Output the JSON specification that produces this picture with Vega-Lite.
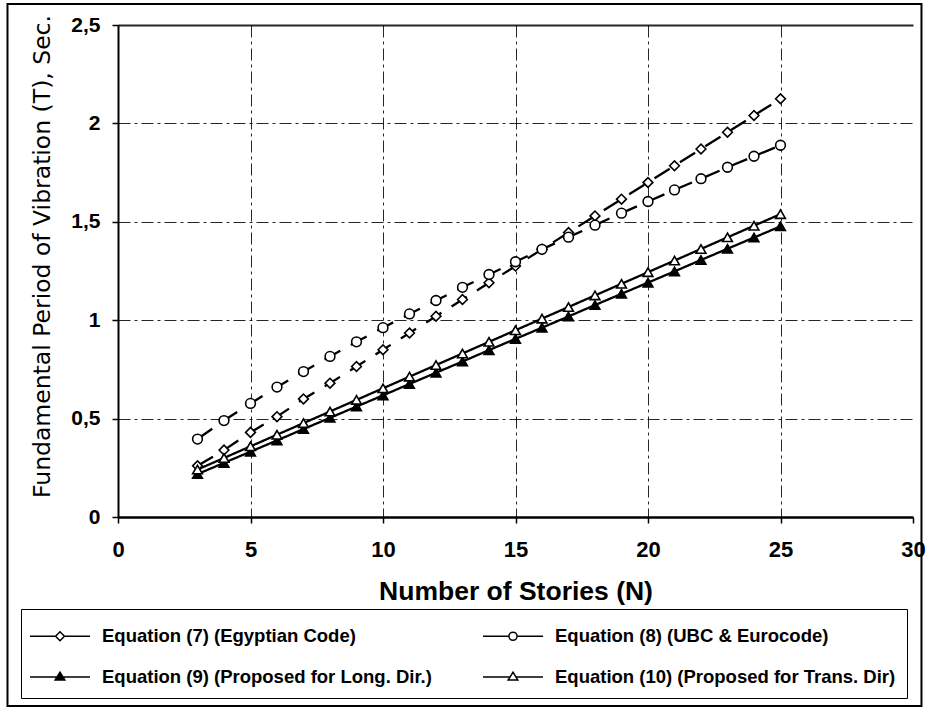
{
  "$schema": "https://vega.github.io/schema/vega-lite/v6.json",
  "width": 795,
  "height": 492,
  "autosize": {"type": "none"},
  "padding": {"left": 118, "top": 25, "right": 13, "bottom": 193},
  "background": "white",
  "config": {"view": {"stroke": null}, "font": "Liberation Sans"},
  "data": {"values": [
    {"s": "Equation (7) (Egyptian Code)", "N": 3, "T": 0.26},
    {"s": "Equation (7) (Egyptian Code)", "N": 4, "T": 0.34},
    {"s": "Equation (7) (Egyptian Code)", "N": 5, "T": 0.43},
    {"s": "Equation (7) (Egyptian Code)", "N": 6, "T": 0.51},
    {"s": "Equation (7) (Egyptian Code)", "N": 7, "T": 0.60},
    {"s": "Equation (7) (Egyptian Code)", "N": 8, "T": 0.68},
    {"s": "Equation (7) (Egyptian Code)", "N": 9, "T": 0.765},
    {"s": "Equation (7) (Egyptian Code)", "N": 10, "T": 0.85},
    {"s": "Equation (7) (Egyptian Code)", "N": 11, "T": 0.935},
    {"s": "Equation (7) (Egyptian Code)", "N": 12, "T": 1.02},
    {"s": "Equation (7) (Egyptian Code)", "N": 13, "T": 1.105},
    {"s": "Equation (7) (Egyptian Code)", "N": 14, "T": 1.19},
    {"s": "Equation (7) (Egyptian Code)", "N": 15, "T": 1.275},
    {"s": "Equation (7) (Egyptian Code)", "N": 16, "T": 1.36},
    {"s": "Equation (7) (Egyptian Code)", "N": 17, "T": 1.445},
    {"s": "Equation (7) (Egyptian Code)", "N": 18, "T": 1.53},
    {"s": "Equation (7) (Egyptian Code)", "N": 19, "T": 1.615},
    {"s": "Equation (7) (Egyptian Code)", "N": 20, "T": 1.70},
    {"s": "Equation (7) (Egyptian Code)", "N": 21, "T": 1.785},
    {"s": "Equation (7) (Egyptian Code)", "N": 22, "T": 1.87},
    {"s": "Equation (7) (Egyptian Code)", "N": 23, "T": 1.955},
    {"s": "Equation (7) (Egyptian Code)", "N": 24, "T": 2.04},
    {"s": "Equation (7) (Egyptian Code)", "N": 25, "T": 2.125},
    {"s": "Equation (8) (UBC & Eurocode)", "N": 3, "T": 0.396},
    {"s": "Equation (8) (UBC & Eurocode)", "N": 4, "T": 0.49},
    {"s": "Equation (8) (UBC & Eurocode)", "N": 5, "T": 0.577},
    {"s": "Equation (8) (UBC & Eurocode)", "N": 6, "T": 0.66},
    {"s": "Equation (8) (UBC & Eurocode)", "N": 7, "T": 0.739},
    {"s": "Equation (8) (UBC & Eurocode)", "N": 8, "T": 0.816},
    {"s": "Equation (8) (UBC & Eurocode)", "N": 9, "T": 0.89},
    {"s": "Equation (8) (UBC & Eurocode)", "N": 10, "T": 0.962},
    {"s": "Equation (8) (UBC & Eurocode)", "N": 11, "T": 1.032},
    {"s": "Equation (8) (UBC & Eurocode)", "N": 12, "T": 1.1},
    {"s": "Equation (8) (UBC & Eurocode)", "N": 13, "T": 1.167},
    {"s": "Equation (8) (UBC & Eurocode)", "N": 14, "T": 1.232},
    {"s": "Equation (8) (UBC & Eurocode)", "N": 15, "T": 1.297},
    {"s": "Equation (8) (UBC & Eurocode)", "N": 16, "T": 1.36},
    {"s": "Equation (8) (UBC & Eurocode)", "N": 17, "T": 1.422},
    {"s": "Equation (8) (UBC & Eurocode)", "N": 18, "T": 1.483},
    {"s": "Equation (8) (UBC & Eurocode)", "N": 19, "T": 1.544},
    {"s": "Equation (8) (UBC & Eurocode)", "N": 20, "T": 1.603},
    {"s": "Equation (8) (UBC & Eurocode)", "N": 21, "T": 1.662},
    {"s": "Equation (8) (UBC & Eurocode)", "N": 22, "T": 1.719},
    {"s": "Equation (8) (UBC & Eurocode)", "N": 23, "T": 1.777},
    {"s": "Equation (8) (UBC & Eurocode)", "N": 24, "T": 1.833},
    {"s": "Equation (8) (UBC & Eurocode)", "N": 25, "T": 1.889},
    {"s": "Equation (9) (Proposed for Long. Dir.)", "N": 3, "T": 0.218},
    {"s": "Equation (9) (Proposed for Long. Dir.)", "N": 4, "T": 0.275},
    {"s": "Equation (9) (Proposed for Long. Dir.)", "N": 5, "T": 0.332},
    {"s": "Equation (9) (Proposed for Long. Dir.)", "N": 6, "T": 0.389},
    {"s": "Equation (9) (Proposed for Long. Dir.)", "N": 7, "T": 0.447},
    {"s": "Equation (9) (Proposed for Long. Dir.)", "N": 8, "T": 0.504},
    {"s": "Equation (9) (Proposed for Long. Dir.)", "N": 9, "T": 0.561},
    {"s": "Equation (9) (Proposed for Long. Dir.)", "N": 10, "T": 0.618},
    {"s": "Equation (9) (Proposed for Long. Dir.)", "N": 11, "T": 0.676},
    {"s": "Equation (9) (Proposed for Long. Dir.)", "N": 12, "T": 0.733},
    {"s": "Equation (9) (Proposed for Long. Dir.)", "N": 13, "T": 0.79},
    {"s": "Equation (9) (Proposed for Long. Dir.)", "N": 14, "T": 0.848},
    {"s": "Equation (9) (Proposed for Long. Dir.)", "N": 15, "T": 0.905},
    {"s": "Equation (9) (Proposed for Long. Dir.)", "N": 16, "T": 0.962},
    {"s": "Equation (9) (Proposed for Long. Dir.)", "N": 17, "T": 1.019},
    {"s": "Equation (9) (Proposed for Long. Dir.)", "N": 18, "T": 1.077},
    {"s": "Equation (9) (Proposed for Long. Dir.)", "N": 19, "T": 1.134},
    {"s": "Equation (9) (Proposed for Long. Dir.)", "N": 20, "T": 1.191},
    {"s": "Equation (9) (Proposed for Long. Dir.)", "N": 21, "T": 1.248},
    {"s": "Equation (9) (Proposed for Long. Dir.)", "N": 22, "T": 1.306},
    {"s": "Equation (9) (Proposed for Long. Dir.)", "N": 23, "T": 1.363},
    {"s": "Equation (9) (Proposed for Long. Dir.)", "N": 24, "T": 1.42},
    {"s": "Equation (9) (Proposed for Long. Dir.)", "N": 25, "T": 1.477},
    {"s": "Equation (10) (Proposed for Trans. Dir)", "N": 3, "T": 0.241},
    {"s": "Equation (10) (Proposed for Trans. Dir)", "N": 4, "T": 0.3},
    {"s": "Equation (10) (Proposed for Trans. Dir)", "N": 5, "T": 0.359},
    {"s": "Equation (10) (Proposed for Trans. Dir)", "N": 6, "T": 0.418},
    {"s": "Equation (10) (Proposed for Trans. Dir)", "N": 7, "T": 0.477},
    {"s": "Equation (10) (Proposed for Trans. Dir)", "N": 8, "T": 0.536},
    {"s": "Equation (10) (Proposed for Trans. Dir)", "N": 9, "T": 0.595},
    {"s": "Equation (10) (Proposed for Trans. Dir)", "N": 10, "T": 0.654},
    {"s": "Equation (10) (Proposed for Trans. Dir)", "N": 11, "T": 0.713},
    {"s": "Equation (10) (Proposed for Trans. Dir)", "N": 12, "T": 0.772},
    {"s": "Equation (10) (Proposed for Trans. Dir)", "N": 13, "T": 0.831},
    {"s": "Equation (10) (Proposed for Trans. Dir)", "N": 14, "T": 0.89},
    {"s": "Equation (10) (Proposed for Trans. Dir)", "N": 15, "T": 0.949},
    {"s": "Equation (10) (Proposed for Trans. Dir)", "N": 16, "T": 1.008},
    {"s": "Equation (10) (Proposed for Trans. Dir)", "N": 17, "T": 1.067},
    {"s": "Equation (10) (Proposed for Trans. Dir)", "N": 18, "T": 1.126},
    {"s": "Equation (10) (Proposed for Trans. Dir)", "N": 19, "T": 1.185},
    {"s": "Equation (10) (Proposed for Trans. Dir)", "N": 20, "T": 1.244},
    {"s": "Equation (10) (Proposed for Trans. Dir)", "N": 21, "T": 1.303},
    {"s": "Equation (10) (Proposed for Trans. Dir)", "N": 22, "T": 1.362},
    {"s": "Equation (10) (Proposed for Trans. Dir)", "N": 23, "T": 1.421},
    {"s": "Equation (10) (Proposed for Trans. Dir)", "N": 24, "T": 1.48},
    {"s": "Equation (10) (Proposed for Trans. Dir)", "N": 25, "T": 1.539}
  ]},
  "encoding": {
    "x": {
      "field": "N", "type": "quantitative",
      "scale": {"domain": [0, 30], "nice": false, "zero": false},
      "axis": {
        "title": "Number of Stories (N)",
        "values": [0, 5, 10, 15, 20, 25, 30],
        "format": "d",
        "labelFlush": false,
        "labelFont": "Liberation Sans", "labelFontSize": 22, "labelFontWeight": "bold", "labelColor": "black", "labelPadding": 16,
        "tickColor": "black", "tickSize": 6, "tickWidth": 1.5,
        "domainColor": "black", "domainWidth": 2.5,
        "grid": true, "gridColor": "black", "gridWidth": 1,
        "gridDash": [12, 4, 3, 4],
        "gridOpacity": {"condition": {"test": "datum.value === 0 || datum.value === 30", "value": 0}, "value": 0.85},
        "titleFont": "Liberation Sans", "titleFontSize": 26.5, "titleFontWeight": "bold", "titleColor": "black", "titlePadding": 18
      }
    },
    "y": {
      "field": "T", "type": "quantitative",
      "scale": {"domain": [0, 2.5], "nice": false, "zero": false},
      "axis": {
        "title": "Fundamental Period of Vibration (T), Sec.",
        "values": [0, 0.5, 1, 1.5, 2, 2.5],
        "labelExpr": "replace(format(datum.value, '~g'), '.', ',')",
        "labelFont": "Liberation Sans", "labelFontSize": 21, "labelFontWeight": "bold", "labelColor": "black", "labelPadding": 12,
        "tickColor": "black", "tickSize": 6, "tickWidth": 1.5,
        "domainColor": "black", "domainWidth": 2,
        "grid": true, "gridColor": "black",
        "gridDash": {"condition": {"test": "datum.value === 2.5", "value": []}, "value": [12, 4, 3, 4]},
        "gridWidth": {"condition": {"test": "datum.value === 2.5", "value": 2}, "value": 1},
        "gridOpacity": {"condition": {"test": "datum.value === 0", "value": 0}, "value": 0.85},
        "titleFont": "DejaVu Sans", "titleFontSize": 23.5, "titleFontWeight": "normal", "titleColor": "black", "titlePadding": 16,
        "titleY": 231
      }
    }
  },
  "resolve": {
    "scale": {"shape": "independent"},
    "legend": {"shape": "independent", "fill": "independent", "strokeDash": "independent"}
  },
  "layer": [
    {
      "mark": {"type": "line", "color": "black", "strokeWidth": 2.3, "strokeCap": "butt"},
      "encoding": {
        "strokeDash": {
          "field": "s", "type": "nominal",
          "scale": {
            "domain": ["Equation (7) (Egyptian Code)", "Equation (8) (UBC & Eurocode)", "Equation (9) (Proposed for Long. Dir.)", "Equation (10) (Proposed for Trans. Dir)"],
            "range": [[18, 12], [18, 12], [1, 0], [1, 0]]
          },
          "legend": null
        }
      }
    },
    {
      "mark": {"type": "point", "filled": true, "stroke": "black", "strokeWidth": 1.6, "size": 95, "opacity": 1},
      "encoding": {
        "shape": {
          "field": "s", "type": "nominal",
          "scale": {
            "domain": ["Equation (7) (Egyptian Code)", "Equation (8) (UBC & Eurocode)", "Equation (9) (Proposed for Long. Dir.)", "Equation (10) (Proposed for Trans. Dir)"],
            "range": ["diamond", "circle", "triangle-up", "triangle-up"]
          },
          "legend": null
        },
        "fill": {
          "field": "s", "type": "nominal",
          "scale": {
            "domain": ["Equation (7) (Egyptian Code)", "Equation (8) (UBC & Eurocode)", "Equation (9) (Proposed for Long. Dir.)", "Equation (10) (Proposed for Trans. Dir)"],
            "range": ["white", "white", "black", "white"]
          },
          "legend": null
        }
      }
    },
    {
      "transform": [{"filter": "false"}],
      "mark": {"type": "point", "filled": true, "stroke": "black", "strokeWidth": 1.5, "opacity": 1},
      "encoding": {
        "shape": {
          "field": "s", "type": "nominal",
          "scale": {
            "domain": ["Equation (7) (Egyptian Code)", "Equation (8) (UBC & Eurocode)", "Equation (9) (Proposed for Long. Dir.)", "Equation (10) (Proposed for Trans. Dir)"],
            "range": [
              "M-2,0H-0.3M0.3,0H2M-0.3,0L0,-0.3L0.3,0L0,0.3Z",
              "M-2,0H-0.27M0.27,0H2M-0.27,0A0.27,0.27,0,1,0,0.27,0A0.27,0.27,0,1,0,-0.27,0Z",
              "M-2,0H2M-0.32,0.2L0,-0.32L0.32,0.2Z",
              "M-2,0H-0.2M0.2,0H2M-0.32,0.2L0,-0.32L0.32,0.2Z"
            ]
          },
          "legend": {
            "title": null,
            "orient": "none",
            "direction": "horizontal",
            "legendX": -97,
            "legendY": 584,
            "columns": 2,
            "columnPadding": 48,
            "rowPadding": 15,
            "padding": 11,
            "strokeColor": "black",
            "cornerRadius": 0,
            "symbolSize": 900,
            "symbolOffset": 12,
            "labelOffset": 26,
            "symbolStrokeWidth": 1.5,
            "labelFont": "Liberation Sans",
            "labelFontSize": 18.5,
            "labelFontWeight": "bold",
            "labelColor": "black",
            "labelLimit": 500
          }
        },
        "fill": {
          "field": "s", "type": "nominal",
          "scale": {
            "domain": ["Equation (7) (Egyptian Code)", "Equation (8) (UBC & Eurocode)", "Equation (9) (Proposed for Long. Dir.)", "Equation (10) (Proposed for Trans. Dir)"],
            "range": ["white", "white", "black", "white"]
          },
          "legend": {"title": null, "orient": "none", "direction": "horizontal", "legendX": -97, "legendY": 584, "columns": 2}
        }
      }
    },
    {
      "transform": [{"filter": "datum.N === 3 && datum.T === 0.26"}],
      "mark": {"type": "rect", "filled": false, "stroke": "black", "strokeWidth": 2},
      "encoding": {
        "x": {"datum": -4.17, "type": "quantitative", "scale": {"domain": [0, 30], "nice": false, "zero": false}},
        "x2": {"datum": 30.32},
        "y": {"datum": 2.607, "type": "quantitative", "scale": {"domain": [0, 2.5], "nice": false, "zero": false}},
        "y2": {"datum": -0.96}
      }
    }
  ]
}
